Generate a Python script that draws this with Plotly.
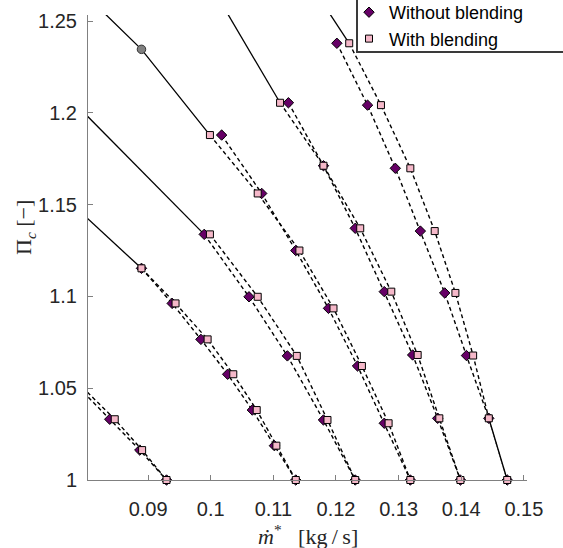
import plotly.graph_objects as go

# ---------------- data ----------------
# Each speed line: pressure ratio levels and mass flows for both variants
curve_pi = [
    [1.0505, 1.0331, 1.0163, 1.0],
    [1.1153, 1.0962, 1.0766, 1.0576, 1.0381, 1.0187, 1.0],
    [1.1338, 1.0998, 1.0676, 1.0327, 1.0],
    [1.1879, 1.1561, 1.1250, 1.0935, 1.0621, 1.0309, 1.0],
    [1.2055, 1.1712, 1.1371, 1.1026, 1.0681, 1.0336, 1.0],
    [1.2379, 1.2042, 1.1698, 1.1356, 1.1019, 1.0678, 1.0336, 1.0],
]
mdot_without = [
    [0.0789, 0.08387, 0.08867, 0.09294],
    [0.08894, 0.09384, 0.09843, 0.10270, 0.10664, 0.11016, 0.11358],
    [0.09896, 0.10611, 0.11224, 0.11800, 0.12307],
    [0.10174, 0.10814, 0.11358, 0.11880, 0.12344, 0.12771, 0.13187],
    [0.11240, 0.11800, 0.12307, 0.12771, 0.13224, 0.13624, 0.13987],
    [0.12014, 0.12504, 0.12947, 0.13347, 0.13736, 0.14083, 0.14440, 0.14734],
]
mdot_with = [
    [0.0795, 0.08467, 0.08904, 0.09294],
    [0.08894, 0.09438, 0.09950, 0.10360, 0.10734, 0.11048, 0.11358],
    [0.09987, 0.10750, 0.11374, 0.11864, 0.12307],
    [0.09987, 0.10750, 0.11416, 0.11960, 0.12414, 0.12840, 0.13187],
    [0.11107, 0.11800, 0.12387, 0.12883, 0.13304, 0.13650, 0.13987],
    [0.12211, 0.12718, 0.13187, 0.13576, 0.13907, 0.14190, 0.14440, 0.14734],
]
# solid reference speed-line segments
ref_x = [
    [0.0790, 0.08894],
    [0.0790, 0.09896],
    [0.0828, 0.08894, 0.09987],
    [0.1020, 0.11107],
    [0.1185, 0.12211],
]
ref_y = [
    [1.1466, 1.1153],
    [1.2027, 1.1338],
    [1.2550, 1.2346, 1.1879],
    [1.2580, 1.2055],
    [1.2566, 1.2379],
]
design_x = [0.08894]
design_y = [1.2346]

x_ticks = [0.09, 0.10, 0.11, 0.12, 0.13, 0.14, 0.15]
x_ticktext = ["0.09", "0.1", "0.11", "0.12", "0.13", "0.14", "0.15"]
y_ticks = [1.0, 1.05, 1.10, 1.15, 1.20, 1.25]
y_ticktext = ["1", "1.05", "1.1", "1.15", "1.2", "1.25"]

X_RANGE = [0.0804, 0.1505]
Y_RANGE = [1.0, 1.2533]

PURPLE = "#660066"
PINK = "#F5B8C9"
AXIS_GRAY = "#808080"
TXT = "#262626"

fig = go.Figure()

# solid reference lines
for xs, ys in zip(ref_x, ref_y):
    fig.add_trace(go.Scatter(x=xs, y=ys, mode="lines",
                             line=dict(color="black", width=1.3),
                             showlegend=False, hoverinfo="skip"))

# dashed connecting lines
for xs_list in (mdot_without, mdot_with):
    for xs, ys in zip(xs_list, curve_pi):
        fig.add_trace(go.Scatter(x=xs, y=ys, mode="lines",
                                 line=dict(color="black", width=1.4, dash="4px,3px"),
                                 showlegend=False, hoverinfo="skip"))


def in_range(xs_list):
    px, py = [], []
    for xs, ys in zip(xs_list, curve_pi):
        for x, y in zip(xs, ys):
            if X_RANGE[0] <= x <= X_RANGE[1] and Y_RANGE[0] <= y <= Y_RANGE[1]:
                px.append(x)
                py.append(y)
    return px, py


wx, wy = in_range(mdot_without)
fig.add_trace(go.Scatter(x=wx, y=wy, mode="markers", name="Without blending",
                         cliponaxis=False,
                         marker=dict(symbol="diamond", size=8, color=PURPLE,
                                     line=dict(color="black", width=1))))
bx, by = in_range(mdot_with)
fig.add_trace(go.Scatter(x=bx, y=by, mode="markers", name="With blending",
                         cliponaxis=False,
                         marker=dict(symbol="square", size=7, color=PINK,
                                     line=dict(color="black", width=1))))
fig.add_trace(go.Scatter(x=design_x, y=design_y, mode="markers", showlegend=False,
                         cliponaxis=False,
                         marker=dict(symbol="circle", size=8.5, color="#808080",
                                     line=dict(color="#333333", width=1))))

L, R, T, B = 88, 36, 15, 68
PW, PH = 563 - L - R, 548 - T - B


def px_x(p):
    return (p - L) / PW


def px_y(p):
    return (548 - B - p) / PH


fig.update_layout(
    width=563, height=548,
    margin=dict(l=L, r=R, t=T, b=B, autoexpand=False),
    paper_bgcolor="white", plot_bgcolor="white",
    font=dict(family="Liberation Sans, Arial, sans-serif", color=TXT),
    legend=dict(x=px_x(349), xanchor="left",
                y=px_y(-6), yanchor="top",
                bgcolor="rgba(0,0,0,0)", borderwidth=0,
                font=dict(size=18, color="black"), tracegroupgap=0),
    shapes=[dict(type="rect", xref="paper", yref="paper",
                 x0=px_x(357), x1=px_x(575), y0=px_y(52), y1=px_y(-5),
                 fillcolor="white", line=dict(color="#3a3a3a", width=2),
                 layer="above")],
    xaxis=dict(range=X_RANGE, tickvals=x_ticks, ticktext=x_ticktext,
               showgrid=False, zeroline=False, showline=True, linecolor=AXIS_GRAY,
               linewidth=1, ticks="inside", ticklen=5, tickcolor=AXIS_GRAY,
               tickfont=dict(size=20, color=TXT), ticklabelstandoff=11),
    yaxis=dict(range=Y_RANGE, tickvals=y_ticks, ticktext=y_ticktext,
               showgrid=False, zeroline=False, showline=True, linecolor=AXIS_GRAY,
               linewidth=1, ticks="inside", ticklen=5, tickcolor=AXIS_GRAY,
               tickfont=dict(size=20, color=TXT), ticklabelstandoff=6),
    annotations=[
        dict(text="<i>ṁ</i><sup>*</sup>\u00a0\u00a0\u00a0[kg\u2009/\u2009s]",
             xref="paper", yref="paper", x=0.5, y=px_y(535),
             xanchor="center", yanchor="middle", showarrow=False,
             font=dict(family="Liberation Serif, Times New Roman, serif", size=22, color=TXT)),
        dict(text="Π<sub><i>c</i></sub>\u00a0[−]",
             xref="paper", yref="paper", x=px_x(25), y=px_y(228),
             xanchor="center", yanchor="middle", textangle=-90, showarrow=False,
             font=dict(family="Liberation Serif, Times New Roman, serif", size=22, color=TXT)),
    ],
)

fig.write_html("out.html")
